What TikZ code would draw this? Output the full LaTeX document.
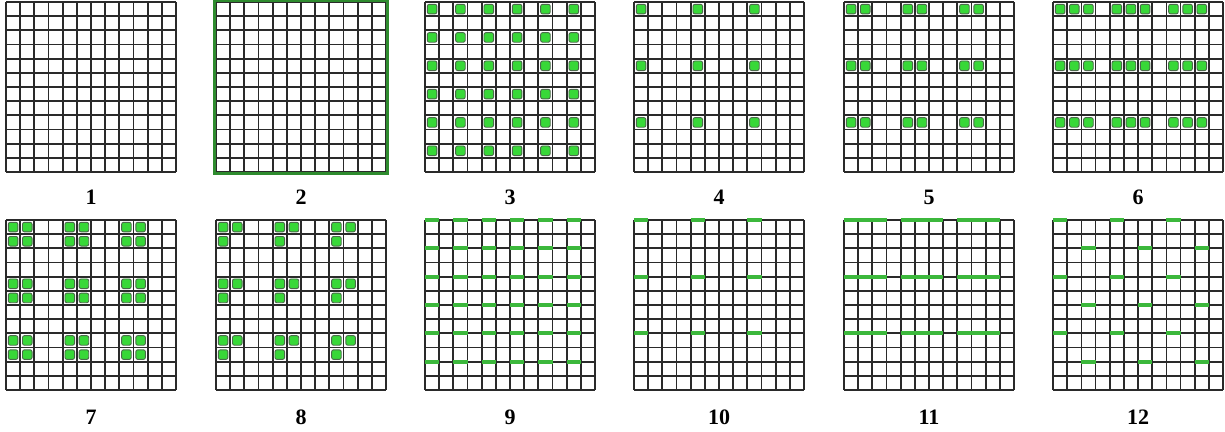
\documentclass[tikz,border=0pt]{standalone}
\usepackage{fontspec}
\setmainfont{Liberation Serif}
\definecolor{gfill}{HTML}{38D838}
\definecolor{gedge}{HTML}{4A6A4A}
\definecolor{gline}{HTML}{3CB83C}
\definecolor{gborder}{HTML}{2E8B2E}
\definecolor{gridc}{HTML}{2A2A2A}
\tikzset{
  gridline/.style={draw=gridc,line width=1.7pt},
  greensq/.style={fill=gfill,draw=gedge,line width=0.9pt,rounded corners=2pt},
  greenedge/.style={draw=gline,line width=4pt},
  gframe/.style={draw=gborder,line width=3pt},
  lab/.style={font=\bfseries\fontsize{22}{26}\selectfont,anchor=base,inner sep=0pt}
}
\newcommand\cs{14.1667}
\newcommand\mygrid[2]{%
  \foreach \i in {0,...,12}{%
    \draw[gridline] ({#1+\i*\cs},#2) -- ({#1+\i*\cs},{#2+170});
    \draw[gridline] (#1,{#2+\i*\cs}) -- ({#1+170},{#2+\i*\cs});
  }}
\newcommand\sqat[4]{\path[greensq] ({#1+(#3)*\cs+2.3},{#2+(#4)*\cs+2.3}) rectangle ++(9.6,9.6);}
\newcommand\lnat[4]{\draw[greenedge] ({#1+(#3)*\cs},{#2+(#4)*\cs}) -- ++(\cs,0);}
\begin{document}
\begin{tikzpicture}[x=1pt,y=-1pt]
\useasboundingbox (0,0) rectangle (1225,431);
% row 1
\mygrid{6}{2}
\mygrid{216}{2}
\draw[gframe] (214.5,0.5) rectangle (387.5,173.5);
\mygrid{425}{2}
\mygrid{634}{2}
\mygrid{844}{2}
\mygrid{1053}{2}
% row 2
\mygrid{6}{220}
\mygrid{216}{220}
\mygrid{425}{220}
\mygrid{634}{220}
\mygrid{844}{220}
\mygrid{1053}{220}
% panel 3
\foreach \c in {0,2,...,10}{\foreach \r in {0,2,...,10}{\sqat{425}{2}{\c}{\r}}}
% panel 4
\foreach \c in {0,4,8}{\foreach \r in {0,4,8}{\sqat{634}{2}{\c}{\r}}}
% panel 5
\foreach \c in {0,1,4,5,8,9}{\foreach \r in {0,4,8}{\sqat{844}{2}{\c}{\r}}}
% panel 6
\foreach \c in {0,1,2,4,5,6,8,9,10}{\foreach \r in {0,4,8}{\sqat{1053}{2}{\c}{\r}}}
% panel 7
\foreach \c in {0,1,4,5,8,9}{\foreach \r in {0,1,4,5,8,9}{\sqat{6}{220}{\c}{\r}}}
% panel 8
\foreach \c in {0,4,8}{\foreach \r in {0,4,8}{%
  \sqat{216}{220}{\c}{\r}
  \sqat{216}{220}{\c+1}{\r}
  \sqat{216}{220}{\c}{\r+1}}}
% panel 9
\foreach \c in {0,2,...,10}{\foreach \r in {0,2,...,10}{\lnat{425}{220}{\c}{\r}}}
% panel 10
\foreach \c in {0,4,8}{\foreach \r in {0,4,8}{\lnat{634}{220}{\c}{\r}}}
% panel 11
\foreach \c in {0,1,2,4,5,6,8,9,10}{\foreach \r in {0,4,8}{\lnat{844}{220}{\c}{\r}}}
% panel 12
\foreach \c in {0,4,8}{\foreach \r in {0,4,8}{%
  \lnat{1053}{220}{\c}{\r}
  \lnat{1053}{220}{\c+2}{\r+2}}}
% labels
\node[lab] (l1) at (91,204.5) {1};
\node[lab] (l2) at (301,204.5) {2};
\node[lab] (l3) at (510,204.5) {3};
\node[lab] (l4) at (719,204.5) {4};
\node[lab] (l5) at (929,204.5) {5};
\node[lab] (l6) at (1138,204.5) {6};
\node[lab] (l7) at (91,424.5) {7};
\node[lab] (l8) at (301,424.5) {8};
\node[lab] (l9) at (510,424.5) {9};
\node[lab] (l10) at (719,424.5) {10};
\node[lab] (l11) at (929,424.5) {11};
\node[lab] (l12) at (1138,424.5) {12};
\end{tikzpicture}
\end{document}
